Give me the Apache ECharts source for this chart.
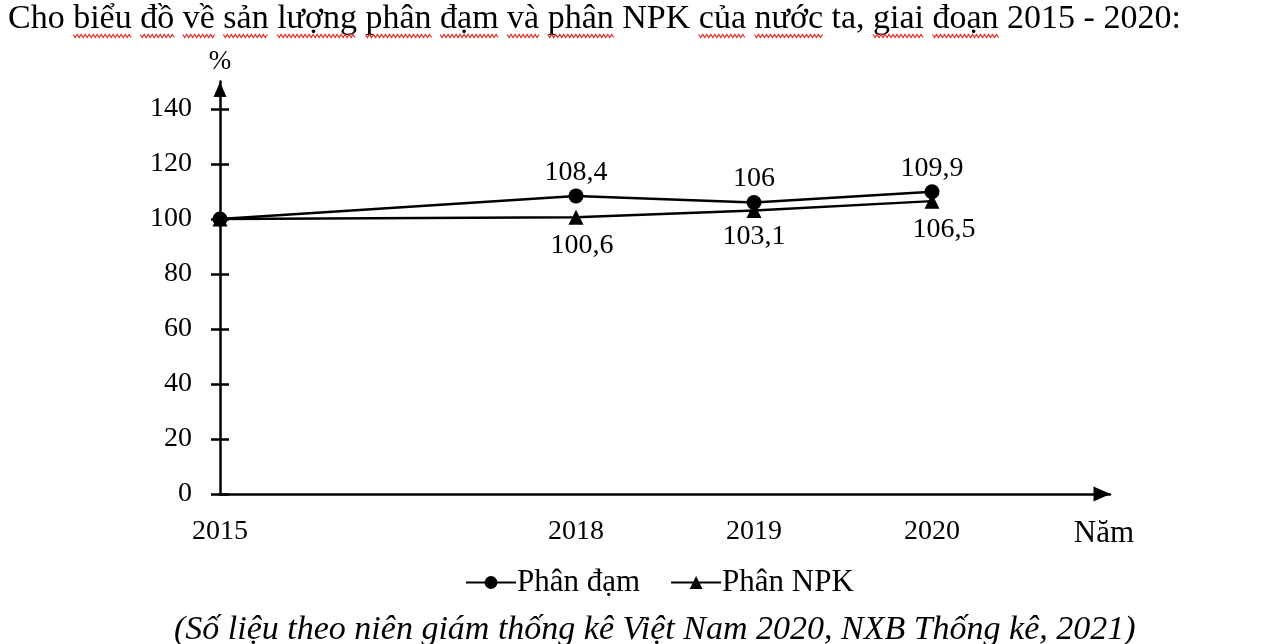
<!DOCTYPE html>
<html>
<head>
<meta charset="utf-8">
<script src="https://cdn.jsdelivr.net/npm/echarts@6/dist/echarts.min.js"></script>
<style>
  html, body { margin: 0; padding: 0; background: #fff; }
  #chart { width: 1280px; height: 644px; }
</style>
</head>
<body>
<div id="chart"></div>
<script>
// ==============================================================
// data
// ==============================================================
var years = ['2015', '', '2018', '2019', '2020', ''];
var phanDam = [100, null, 108.4, 106, 109.9, null];
var phanNPK = [100, null, 100.6, 103.1, 106.5, null];
var yTicks = [0, 20, 40, 60, 80, 100, 120, 140];
var seriesNames = ['Phân đạm', 'Phân NPK'];

var FONT = '"Liberation Serif", "Times New Roman", serif';
var TITLE = 'Cho biểu đồ về sản lượng phân đạm và phân NPK của nước ta, giai đoạn 2015 - 2020:';
var TITLE_FONT = '34px ' + FONT;
// các từ bị gạch chân đỏ (kiểm tra chính tả) trong tiêu đề
var squiggleWords = ['biểu', 'đồ', 'về', 'sản', 'lượng', 'phân', 'đạm', 'và', 'phân', 'của', 'nước', 'giai', 'đoạn'];

function toData(arr) {
    return arr.map(function (v, i) {
        return v === null ? '-' : { value: v, label: { show: i > 0 } };
    });
}

var npkData = toData(phanNPK);
npkData[2].label.offset = [6, 2];
npkData[4].label.offset = [12, 2];

// gạch sóng đỏ dưới các từ của tiêu đề
function squiggles(left, baseY) {
    var ctx = document.createElement('canvas').getContext('2d');
    ctx.font = TITLE_FONT;
    var out = [], from = 0;
    squiggleWords.forEach(function (w) {
        var idx = TITLE.indexOf(w, from);
        if (idx < 0) return;
        from = idx + w.length;
        var x0 = left + ctx.measureText(TITLE.slice(0, idx)).width;
        var x1 = left + ctx.measureText(TITLE.slice(0, idx + w.length)).width;
        var pts = [], k = 0;
        for (var x = x0; x <= x1; x += 2, k++) pts.push([x, baseY + (k % 2 ? 1.5 : -1.5)]);
        out.push({
            type: 'polyline', silent: true,
            shape: { points: pts },
            style: { stroke: '#e23b36', lineWidth: 1.3, fill: null }
        });
    });
    return out;
}

var chart = echarts.init(document.getElementById('chart'));
var option = {
    animation: false,
    backgroundColor: '#fff',
    textStyle: { fontFamily: FONT, color: '#000' },
    grid: { left: 220, right: 170, top: 81.5, bottom: 150, containLabel: false },
    graphic: [
        {
            type: 'text', left: 8, top: 2,
            style: { text: TITLE, font: TITLE_FONT, fill: '#000' }
        },
        {
            type: 'text', left: 174, top: 613,
            style: {
                text: '(Số liệu theo niên giám thống kê Việt Nam 2020, NXB Thống kê, 2021)',
                font: 'italic 34px ' + FONT, fill: '#000'
            }
        }
    ].concat(squiggles(8, 36)),
    legend: {
        left: 460, top: 562,
        itemWidth: 50, itemHeight: 16, itemGap: 30,
        textStyle: { fontFamily: FONT, fontSize: 31, color: '#000', padding: [0, 0, 0, -4] },
        data: seriesNames
    },
    xAxis: {
        type: 'category',
        data: years,
        boundaryGap: false,
        axisLine: {
            lineStyle: { color: '#000', width: 2.5 },
            symbol: ['none', 'triangle'], symbolSize: [15, 17], symbolOffset: [0, -8]
        },
        axisTick: { show: false },
        axisLabel: { interval: 0, margin: 24, fontFamily: FONT, fontSize: 28, color: '#000' },
        splitLine: { show: false },
        name: 'Năm', nameLocation: 'end', nameGap: -6,
        nameTextStyle: {
            fontFamily: FONT, fontSize: 31, color: '#000',
            align: 'center', verticalAlign: 'top', padding: [24, 0, 0, 0]
        }
    },
    yAxis: [
        {
            type: 'value', min: 0, max: 150, interval: 20,
            axisLine: {
                show: true,
                lineStyle: { color: '#000', width: 2.5 },
                symbol: ['none', 'triangle'], symbolSize: [13, 15], symbolOffset: [0, -8]
            },
            axisTick: { show: true, length: 9, customValues: yTicks, lineStyle: { width: 2.5 } },
            axisLabel: { margin: 28, customValues: yTicks, fontFamily: FONT, fontSize: 28, color: '#000' },
            splitLine: { show: false },
            name: '%', nameLocation: 'end', nameGap: 6,
            nameTextStyle: { fontFamily: FONT, fontSize: 27, color: '#000', align: 'center' }
        },
        {
            type: 'value', min: 0, max: 150, interval: 20, position: 'left',
            axisLine: { show: false },
            axisTick: { show: true, inside: true, length: 9, customValues: yTicks, lineStyle: { color: '#000', width: 2.5 } },
            axisLabel: { show: false },
            splitLine: { show: false }
        }
    ],
    series: [
        {
            name: seriesNames[0],
            type: 'line',
            data: toData(phanDam),
            connectNulls: true,
            symbol: 'circle', symbolSize: 15,
            itemStyle: { color: '#000' },
            lineStyle: { color: '#000', width: 2.5 },
            label: {
                position: 'top', distance: 2,
                fontFamily: FONT, fontSize: 28, color: '#000',
                formatter: function (p) { return String(p.value).replace('.', ','); }
            }
        },
        {
            name: seriesNames[1],
            type: 'line',
            data: npkData,
            connectNulls: true,
            symbol: 'triangle', symbolSize: 15,
            itemStyle: { color: '#000' },
            lineStyle: { color: '#000', width: 2.5 },
            label: {
                position: 'bottom', distance: 5,
                fontFamily: FONT, fontSize: 28, color: '#000',
                formatter: function (p) { return String(p.value).replace('.', ','); }
            }
        }
    ]
};
chart.setOption(option);
window.addEventListener('resize', function () { chart.resize(); });
</script>
</body>
</html>
